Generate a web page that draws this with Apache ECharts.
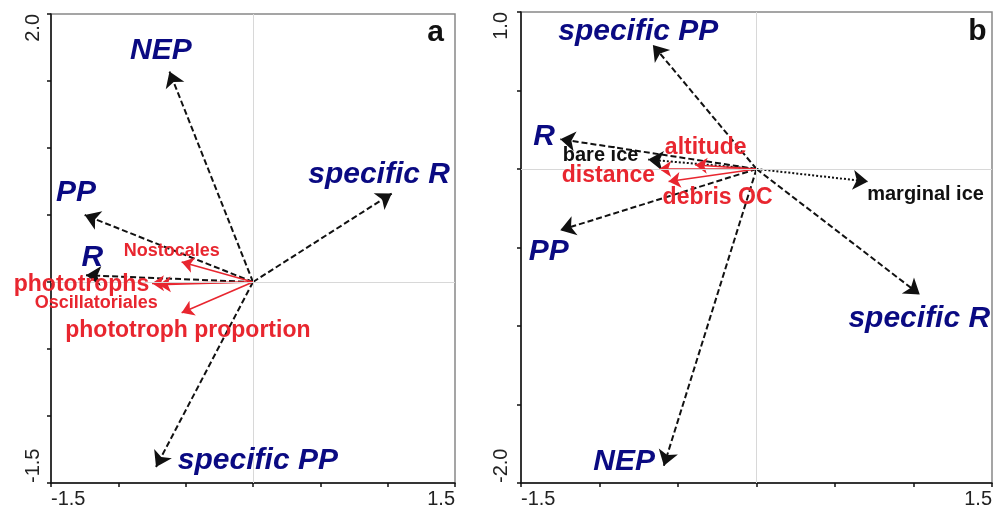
<!DOCTYPE html>
<html>
<head>
<meta charset="utf-8">
<script src="https://cdn.jsdelivr.net/npm/echarts@6/dist/echarts.min.js"></script>
<style>
  html, body { margin: 0; padding: 0; background: #fff; }
  #chart { width: 1003px; height: 511px; }
</style>
</head>
<body>
<div id="chart"></div>
<script>
// panel a : response vectors (blue), explanatory vectors (red)
var aRespNames = ['NEP', 'specific R', 'PP', 'R', 'specific PP'];
var aRespTips = [[-0.62, 1.57], [1.03, 0.66], [-1.25, 0.50], [-1.24, 0.05], [-0.72, -1.38]];
var aRespLabelAt = [[-0.68, 1.72], [0.94, 0.80], [-1.31, 0.66], [-1.19, 0.18], [0.04, -1.34]];
var aEnvNames = ['Nostocales', 'phototrophs', 'Oscillatoriales', 'phototroph proportion'];
var aEnvTips = [[-0.53, 0.15], [-0.75, -0.01], [-0.70, -0.02], [-0.53, -0.23]];
var aEnvLabelAt = [[-0.60, 0.23], [-1.27, -0.02], [-1.16, -0.16], [-0.48, -0.37]];
var aSmallLabels = ['Nostocales', 'Oscillatoriales'];

// panel b
var bRespNames = ['specific PP', 'R', 'PP', 'NEP', 'specific R'];
var bRespTips = [[-0.66, 0.79], [-1.25, 0.19], [-1.25, -0.39], [-0.59, -1.89], [1.04, -0.80]];
var bRespLabelAt = [[-0.75, 0.87], [-1.35, 0.20], [-1.32, -0.53], [-0.84, -1.87], [1.04, -0.96]];
var bSiteNames = ['bare ice', 'marginal ice'];
var bSiteTips = [[-0.69, 0.06], [0.71, -0.08]];
var bSiteLabelAt = [[-0.99, 0.08], [1.08, -0.165]];
var bEnvNames = ['altitude', 'distance', 'debris OC'];
var bEnvTips = [[-0.39, 0.025], [-0.62, 0.0], [-0.56, -0.08]];
var bEnvLabelAt = [[-0.32, 0.13], [-0.94, -0.045], [-0.245, -0.185]];

// axes
var xMin = -1.5, xMax = 1.5;
var aYMin = -1.5, aYMax = 2.0;
var bYMin = -2.0, bYMax = 1.0;
var panelLetters = ['a', 'b'];
var letterAt = [[1.36, 1.86], [1.41, 0.87]];

var FONT = '"Liberation Sans", Arial, sans-serif';
var NAVY = '#0a0a82';
var RED = '#e8262f';

function arrows(tips, gi, style) {
    return {
        type: 'lines',
        coordinateSystem: 'cartesian2d',
        xAxisIndex: gi, yAxisIndex: gi,
        symbol: ['none', 'arrow'],
        symbolSize: style.head,
        silent: true,
        lineStyle: { color: style.color, width: style.width, type: style.type, opacity: 1 },
        data: tips.map(function (t) { return { coords: [[0, 0], t] }; }),
        z: style.z
    };
}

function labels(names, at, gi, styleOf) {
    return {
        type: 'scatter',
        xAxisIndex: gi, yAxisIndex: gi,
        symbolSize: 1,
        silent: true,
        clip: false,
        itemStyle: { color: 'rgba(0,0,0,0)', opacity: 1 },
        data: names.map(function (n, i) {
            return {
                name: n,
                value: at[i],
                label: Object.assign({
                    show: true,
                    position: [0, 0],
                    align: 'center',
                    verticalAlign: 'middle',
                    fontFamily: FONT,
                    fontWeight: 'bold',
                    opacity: 1,
                    formatter: '{b}'
                }, styleOf(n))
            };
        }),
        z: 10
    };
}

function crossLines(gi) {
    return {
        type: 'line',
        xAxisIndex: gi, yAxisIndex: gi,
        data: [],
        markLine: {
            silent: true,
            symbol: 'none',
            label: { show: false },
            lineStyle: { color: '#d8d8d8', width: 1, type: 'solid' },
            data: [{ xAxis: 0 }, { yAxis: 0 }],
            animation: false
        }
    };
}

function endLabels(min, max) {
    return function (v) {
        if (Math.abs(v - min) < 1e-9 || Math.abs(v - max) < 1e-9) return v.toFixed(1);
        return '';
    };
}

function xAxisFor(gi) {
    return {
        type: 'value', gridIndex: gi, min: xMin, max: xMax, interval: 0.5,
        axisLine: { show: true, onZero: false, lineStyle: { color: '#111', width: 1.5 } },
        axisTick: { show: true, length: 4, lineStyle: { color: '#111', width: 1.5 } },
        splitLine: { show: false },
        axisLabel: {
            formatter: endLabels(xMin, xMax), margin: 6,
            fontFamily: FONT, fontSize: 20, color: '#222',
            alignMinLabel: 'left', alignMaxLabel: 'right'
        }
    };
}

function yAxisFor(gi, min, max, margin) {
    return {
        type: 'value', gridIndex: gi, min: min, max: max, interval: 0.5,
        axisLine: { show: true, onZero: false, lineStyle: { color: '#111', width: 1.5 } },
        axisTick: { show: true, length: 4, lineStyle: { color: '#111', width: 1.5 } },
        splitLine: { show: false },
        axisLabel: {
            formatter: endLabels(min, max), margin: margin, rotate: 90,
            fontFamily: FONT, fontSize: 20, color: '#222',
            alignMinLabel: 'left', alignMaxLabel: 'right'
        }
    };
}

function respStyle() { return { color: NAVY, fontStyle: 'italic', fontSize: 30 }; }
function envStyle(n) { return { color: RED, fontSize: aSmallLabels.indexOf(n) >= 0 ? 18 : 23 }; }
function siteStyle() { return { color: '#111', fontSize: 20 }; }
function letterStyle() { return { color: '#111', fontSize: 30 }; }

var dashed = { color: '#111', width: 2, type: [6, 3], head: 15, z: 3 };
var dotted = { color: '#111', width: 2, type: [2, 2], head: 15, z: 3 };
var solidRed = { color: RED, width: 1.6, type: 'solid', head: 12, z: 4 };

var option = {
    backgroundColor: '#fff',
    animation: false,
    grid: [
        { left: 51, top: 14, width: 404, height: 469, show: true, borderColor: '#888', borderWidth: 1.5 },
        { left: 521, top: 12, width: 471, height: 471, show: true, borderColor: '#888', borderWidth: 1.5 }
    ],
    xAxis: [xAxisFor(0), xAxisFor(1)],
    yAxis: [yAxisFor(0, aYMin, aYMax, 8), yAxisFor(1, bYMin, bYMax, 10)],
    series: [
        crossLines(0),
        arrows(aRespTips, 0, dashed),
        arrows(aEnvTips, 0, solidRed),
        labels(aRespNames, aRespLabelAt, 0, respStyle),
        labels(aEnvNames, aEnvLabelAt, 0, envStyle),
        labels([panelLetters[0]], [letterAt[0]], 0, letterStyle),

        crossLines(1),
        arrows(bRespTips, 1, dashed),
        arrows(bSiteTips, 1, dotted),
        arrows(bEnvTips, 1, solidRed),
        labels(bRespNames, bRespLabelAt, 1, respStyle),
        labels(bSiteNames, bSiteLabelAt, 1, siteStyle),
        labels(bEnvNames, bEnvLabelAt, 1, envStyle),
        labels([panelLetters[1]], [letterAt[1]], 1, letterStyle)
    ]
};

var myChart = echarts.init(document.getElementById('chart'));
myChart.setOption(option);
</script>
</body>
</html>
